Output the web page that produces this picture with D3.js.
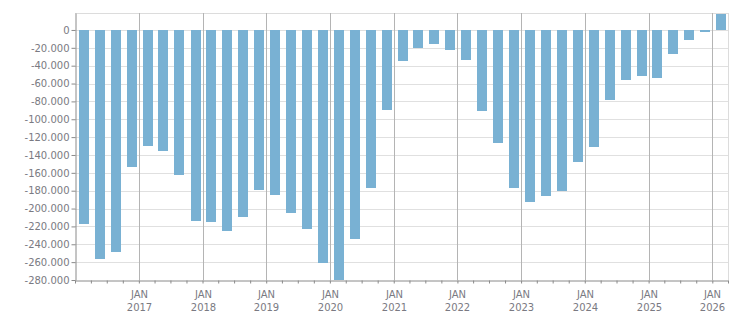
<!DOCTYPE html>
<html>
<head>
<meta charset="utf-8">
<script src="https://cdn.jsdelivr.net/npm/d3@7/dist/d3.min.js"></script>
<style>
  body { margin: 0; background: #fff; }
  svg { display: block; font-family: "DejaVu Sans", sans-serif; }
</style>
</head>
<body>
<div id="chart"></div>
<script>
// quarter start months, Q1 2016 .. Q1 2026
const quarters = [
  '2016-01', '2016-04', '2016-07', '2016-10',
  '2017-01', '2017-04', '2017-07', '2017-10',
  '2018-01', '2018-04', '2018-07', '2018-10',
  '2019-01', '2019-04', '2019-07', '2019-10',
  '2020-01', '2020-04', '2020-07', '2020-10',
  '2021-01', '2021-04', '2021-07', '2021-10',
  '2022-01', '2022-04', '2022-07', '2022-10',
  '2023-01', '2023-04', '2023-07', '2023-10',
  '2024-01', '2024-04', '2024-07', '2024-10',
  '2025-01', '2025-04', '2025-07', '2025-10',
  '2026-01'
];

const values = [
  -217300, -256500, -248600, -153100,
  -129600, -135200, -162400, -213900,
  -215000, -225100, -209100, -179000,
  -184500, -204600, -222500, -260600,
  -279600, -233700, -176600, -89300,
  -34400, -19800, -15300, -22100,
  -33300, -90400, -126200, -176600,
  -192300, -185600, -180000, -147500,
  -130700, -78100, -55700, -51200,
  -53400, -26500, -10900, -2100,
  18000
];

const yTicks = [0, -20000, -40000, -60000, -80000, -100000, -120000, -140000,
  -160000, -180000, -200000, -220000, -240000, -260000, -280000];

const yearTicks = [2017, 2018, 2019, 2020, 2021, 2022, 2023, 2024, 2025, 2026];
const monthLabel = 'JAN';

const W = 751, H = 313;
const plotL = 75, plotR = 728, plotT = 13, plotB = 280;

const parse = d3.timeParse('%Y-%m');
const data = quarters.map((q, i) => {
  const start = parse(q);
  return { start, end: d3.timeMonth.offset(start, 3), value: values[i] };
});

const fmt = d3.formatLocale({
  decimal: ',', thousands: '.', grouping: [3], currency: ['', ''], minus: '-'
}).format(',d');

const x = d3.scaleTime()
  .domain([new Date(2016, 0, 1), new Date(2026, 3, 1)])
  .range([plotL, plotR]);

const y = d3.scaleLinear()
  .domain([-280000, 19000])
  .range([plotB, plotT]);

const svg = d3.select('#chart')
  .append('svg')
  .attr('width', W)
  .attr('height', H);

// horizontal grid
svg.append('g')
  .selectAll('line')
  .data(yTicks.filter(v => v !== -280000))
  .join('line')
  .attr('x1', plotL).attr('x2', plotR)
  .attr('y1', d => Math.round(y(d)) + 0.5)
  .attr('y2', d => Math.round(y(d)) + 0.5)
  .attr('stroke', '#e0e0e0');

// frame top / right
svg.append('line')
  .attr('x1', plotL).attr('x2', plotR + 0.5)
  .attr('y1', plotT + 0.5).attr('y2', plotT + 0.5)
  .attr('stroke', '#dcdcdc');
svg.append('line')
  .attr('x1', plotR + 0.5).attr('x2', plotR + 0.5)
  .attr('y1', plotT).attr('y2', plotB)
  .attr('stroke', '#dcdcdc');

// year lines
svg.append('g')
  .selectAll('line')
  .data(yearTicks)
  .join('line')
  .attr('x1', d => Math.round(x(new Date(d, 0, 1))) + 0.5)
  .attr('x2', d => Math.round(x(new Date(d, 0, 1))) + 0.5)
  .attr('y1', plotT).attr('y2', plotB)
  .attr('stroke', '#b4b4b4');

// bars
const barW = 10;
svg.append('g')
  .attr('shape-rendering', 'crispEdges')
  .selectAll('rect')
  .data(data)
  .join('rect')
  .attr('x', d => Math.round((x(d.start) + x(d.end)) / 2 + 1 - barW / 2))
  .attr('width', barW)
  .attr('y', d => y(Math.max(0, d.value)))
  .attr('height', d => Math.abs(y(d.value) - y(0)))
  .attr('fill', '#79b1d3');

// y axis
const yAxis = svg.append('g')
  .attr('transform', `translate(${plotL + 0.5},0)`)
  .call(d3.axisLeft(y).tickValues(yTicks).tickFormat(fmt).tickSize(4).tickPadding(2).tickSizeOuter(0));
yAxis.select('.domain').attr('stroke', '#8a8a8a');
yAxis.selectAll('.tick line').attr('stroke', '#8a8a8a');
yAxis.selectAll('.tick text')
  .attr('fill', '#7a7a82')
  .style('font-size', '10px')
  .style('font-family', '"DejaVu Sans", sans-serif');

// x axis with quarterly ticks
const xAxis = svg.append('g')
  .attr('transform', `translate(0,${plotB + 0.5})`)
  .call(d3.axisBottom(x).ticks(d3.timeMonth.every(3)).tickFormat('').tickSize(3).tickSizeOuter(0));
xAxis.select('.domain').attr('stroke', '#8a8a8a');
xAxis.selectAll('.tick line').attr('stroke', '#8a8a8a');

// year labels
const lab = svg.append('g')
  .selectAll('text')
  .data(yearTicks)
  .join('text')
  .attr('x', d => Math.round(x(new Date(d, 0, 1))) + 0.5)
  .attr('text-anchor', 'middle')
  .attr('fill', '#7a7a82')
  .style('font-size', '10px');
lab.append('tspan').attr('y', 298).text(monthLabel);
lab.append('tspan')
  .attr('x', d => Math.round(x(new Date(d, 0, 1))) + 0.5)
  .attr('y', 311).text(d => d);
</script>
</body>
</html>
